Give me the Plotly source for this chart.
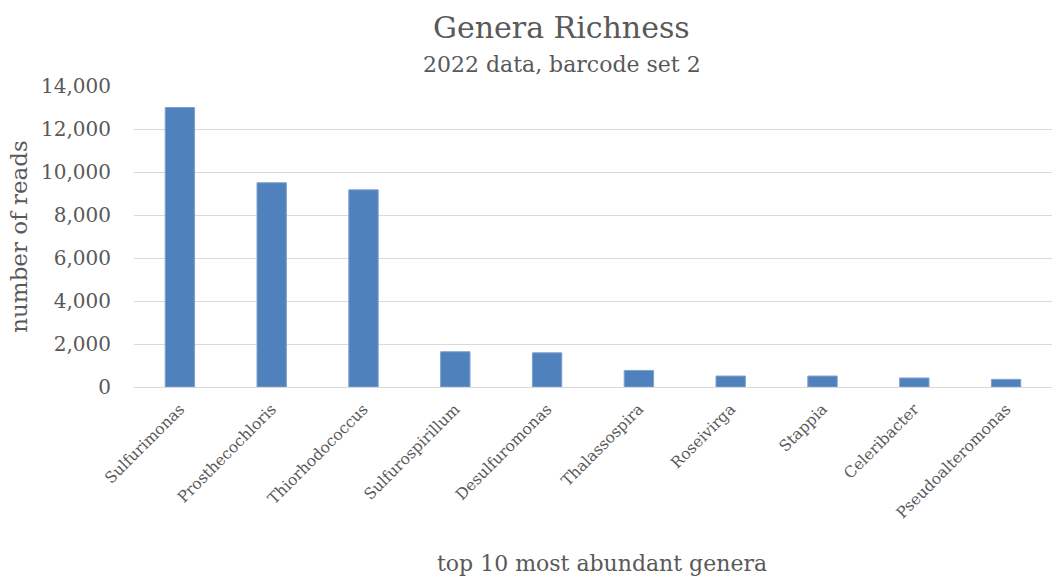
import plotly.graph_objects as go

genera = ["Sulfurimonas", "Prosthecochloris", "Thiorhodococcus", "Sulfurospirillum",
          "Desulfuromonas", "Thalassospira", "Roseivirga", "Stappia", "Celeribacter",
          "Pseudoalteromonas"]
reads = [13000, 9500, 9170, 1640, 1590, 770, 510, 510, 420, 355]
y_ticks = [0, 2000, 4000, 6000, 8000, 10000, 12000, 14000]

FONT = "DejaVu Serif"
TXT = "#595959"

fig = go.Figure(go.Bar(
    x=genera, y=reads,
    marker=dict(color="#4F81BD", line=dict(color="#7EA1CF", width=1)),
))

fig.update_layout(
    width=1053, height=577,
    paper_bgcolor="white", plot_bgcolor="white",
    margin=dict(l=134, r=1, t=86, b=190, autoexpand=False),
    bargap=0.68,
    showlegend=False,
    font=dict(family=FONT, color=TXT),
    xaxis=dict(
        tickangle=-45, tickfont=dict(size=15.5, family=FONT, color=TXT),
        showgrid=False, showline=True, linecolor="#D9D9D9", linewidth=1,
        ticks="", automargin=False, ticklabelstandoff=6,
    ),
    yaxis=dict(
        range=[0, 14000], tickvals=y_ticks, tickformat=",d",
        tickfont=dict(size=20, family=FONT, color=TXT),
        showgrid=True, gridcolor="#D9D9D9", gridwidth=1, zeroline=False,
        ticks="", ticklabelstandoff=22, automargin=False,
        title=dict(text="number of reads", font=dict(size=23, family=FONT, color=TXT), standoff=6),
    ),
)
fig.add_annotation(text="top 10 most abundant genera", xref="paper", yref="paper",
                   x=0.51, y=0, yshift=-176, showarrow=False, xanchor="center",
                   yanchor="middle", font=dict(size=22, family=FONT, color=TXT))
fig.add_annotation(text="Genera Richness", xref="paper", yref="paper", x=0.466, y=1,
                   yshift=59, showarrow=False, xanchor="center", yanchor="middle",
                   font=dict(size=30, family=FONT, color=TXT))
fig.add_annotation(text="2022 data, barcode set 2", xref="paper", yref="paper", x=0.466, y=1,
                   yshift=22, showarrow=False, xanchor="center", yanchor="middle",
                   font=dict(size=22, family=FONT, color=TXT))

fig.write_html("out.html")
